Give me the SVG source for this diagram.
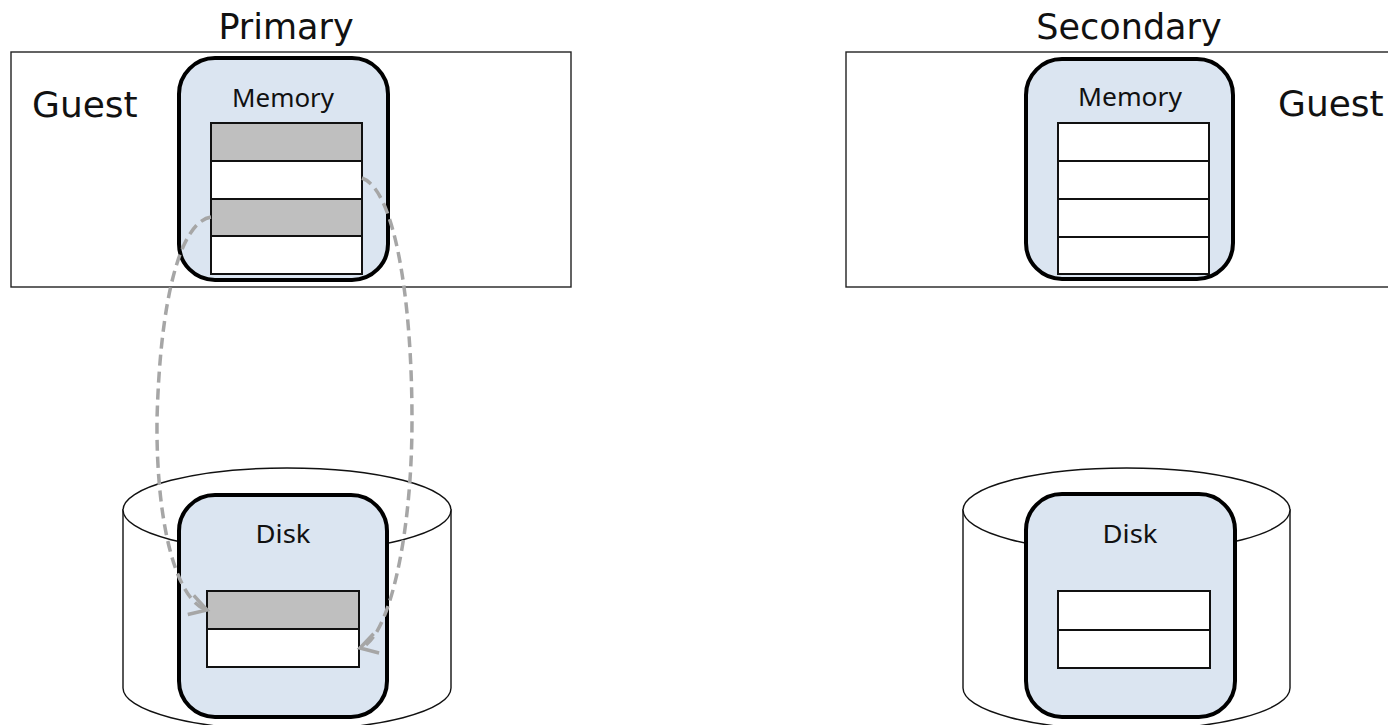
<svg xmlns="http://www.w3.org/2000/svg" width="1388" height="725" viewBox="0 0 1388 725">
  <style>
    .title { font-family: "DejaVu Sans", Verdana, sans-serif; font-size: 35px; fill: #111; }
    .guest-label { font-family: "DejaVu Sans", Verdana, sans-serif; font-size: 36px; fill: #111; }
    .guest { fill: #fff; stroke: #222; stroke-width: 1.4; }
    .store { fill: #dbe5f1; stroke: #000; stroke-width: 4; }
    .store-label { font-family: "Noto Sans", "Liberation Sans", sans-serif; font-size: 25px; fill: #111; }
    .cell { fill: #fff; stroke: #111; stroke-width: 2; }
    .cell.used { fill: #bfbfbf; }
    .cyl { fill: #fff; stroke: #111; stroke-width: 1.4; }
    .flow { fill: none; stroke: #a6a6a6; stroke-width: 3.5; stroke-dasharray: 11 6; }
  </style>
  <defs>
    <marker id="chevron" markerUnits="userSpaceOnUse" markerWidth="30" markerHeight="30" refX="0" refY="0" viewBox="-20 -15 25 30" orient="auto">
      <path d="M -17,-10 L 0,0 L -17,10" fill="none" stroke="#a6a6a6" stroke-width="3.5"/>
    </marker>
  </defs>

  <!-- Primary host -->
  <g id="primary-title">
    <text class="title" x="286" y="39" text-anchor="middle">Primary</text>
  </g>
  <g id="primary-guest">
    <rect class="guest" x="11" y="52" width="560" height="235"/>
    <text class="guest-label" x="32" y="117">Guest</text>
  </g>
  <g id="primary-memory">
    <rect class="store" x="179" y="58" width="209" height="222" rx="36" ry="36"/>
    <text class="store-label" x="283" y="107" text-anchor="middle" textLength="102" lengthAdjust="spacingAndGlyphs">Memory</text>
    <rect class="cell used" x="211" y="123" width="151" height="38"/>
    <rect class="cell" x="211" y="161" width="151" height="38"/>
    <rect class="cell used" x="211" y="199" width="151" height="37"/>
    <rect class="cell" x="211" y="236" width="151" height="38"/>
  </g>
  <g id="primary-disk">
    <path class="cyl" d="M 123,510 L 123,688 A 164,42 0 0 0 451,688 L 451,510 Z"/>
    <ellipse class="cyl" cx="287" cy="510" rx="164" ry="42"/>
    <rect class="store" x="179" y="495" width="208" height="222" rx="36" ry="36"/>
    <text class="store-label" x="283" y="543" text-anchor="middle" textLength="55" lengthAdjust="spacingAndGlyphs">Disk</text>
    <rect class="cell used" x="207" y="591" width="152" height="38"/>
    <rect class="cell" x="207" y="629" width="152" height="38"/>
  </g>

  <!-- Secondary host -->
  <g id="secondary-title">
    <text class="title" x="1129" y="39" text-anchor="middle">Secondary</text>
  </g>
  <g id="secondary-guest">
    <rect class="guest" x="846" y="52" width="560" height="235"/>
    <text class="guest-label" x="1278" y="116">Guest</text>
  </g>
  <g id="secondary-memory">
    <rect class="store" x="1026" y="59" width="207" height="220" rx="36" ry="36"/>
    <text class="store-label" x="1130" y="106" text-anchor="middle" textLength="104" lengthAdjust="spacingAndGlyphs">Memory</text>
    <rect class="cell" x="1058" y="123" width="151" height="38"/>
    <rect class="cell" x="1058" y="161" width="151" height="38"/>
    <rect class="cell" x="1058" y="199" width="151" height="38"/>
    <rect class="cell" x="1058" y="237" width="151" height="37"/>
  </g>
  <g id="secondary-disk">
    <path class="cyl" d="M 963,510 L 963,688 A 163.5,42 0 0 0 1290,688 L 1290,510 Z"/>
    <ellipse class="cyl" cx="1126.5" cy="510" rx="163.5" ry="42"/>
    <rect class="store" x="1026" y="494" width="209" height="223" rx="36" ry="36"/>
    <text class="store-label" x="1130" y="543" text-anchor="middle" textLength="55" lengthAdjust="spacingAndGlyphs">Disk</text>
    <rect class="cell" x="1058" y="591" width="152" height="39"/>
    <rect class="cell" x="1058" y="630" width="152" height="38"/>
  </g>

  <!-- Page copies from memory to disk -->
  <g id="connectors">
    <path class="flow" d="M 211,217 C 180,222 160,300 157,420 C 156,520 175,600 207,610" marker-end="url(#chevron)"/>
    <path class="flow" d="M 362,178 C 395,190 412,300 412,420 C 412,540 388,640 360,648" marker-end="url(#chevron)"/>
  </g>
</svg>
